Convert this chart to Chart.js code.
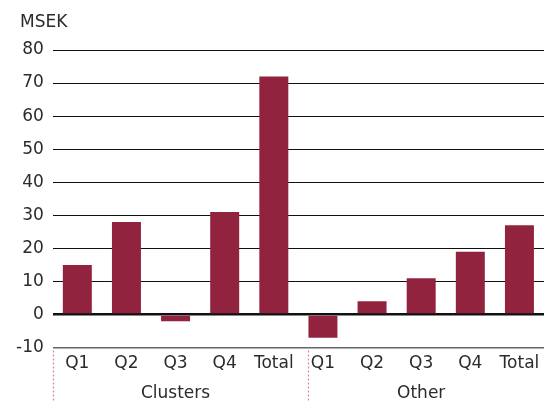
<!doctype html>
<html lang="en">
<head>
  <meta charset="utf-8">
  <title>MSEK by quarter</title>
  <style>
    html, body { margin: 0; padding: 0; background: #fff; }
    .wrap { width: 547px; height: 401px; position: relative; }
  </style>
</head>
<body>
  <div class="wrap"><canvas id="chart"></canvas></div>

  <script src="https://cdn.jsdelivr.net/npm/chart.js"></script>
  <script>
    const quarters = ['Q1', 'Q2', 'Q3', 'Q4', 'Total', 'Q1', 'Q2', 'Q3', 'Q4', 'Total'];
    const groups   = ['Clusters', 'Other'];
    const values   = [15, 28, -2, 31, 72, -7, 4, 11, 19, 27];
    const yTicks   = [-10, 0, 10, 20, 30, 40, 50, 60, 70, 80];

    const FONT = "'DejaVu Sans', sans-serif";
    const TEXT = '#2b2b2b';

    // unit label, group labels and the dotted separators under the axis
    const extras = {
      id: 'extras',
      afterDraw(chart) {
        const { ctx, chartArea, scales } = chart;
        const x = scales.x;
        ctx.save();
        ctx.fillStyle = TEXT;
        ctx.font = '17px ' + FONT;
        ctx.textBaseline = 'alphabetic';
        ctx.textAlign = 'left';
        ctx.fillText('MSEK', 20, 27);

        ctx.textAlign = 'center';
        const y = chartArea.bottom + 50;
        ctx.fillText(groups[0], (x.getPixelForValue(0) + x.getPixelForValue(4)) / 2, y);
        ctx.fillText(groups[1], (x.getPixelForValue(5) + x.getPixelForValue(9)) / 2, y);

        ctx.strokeStyle = '#d48aa0';
        ctx.lineWidth = 1.2;
        ctx.setLineDash([2, 2]);
        [chartArea.left, x.getPixelForValue(4.7)].forEach(px => {
          ctx.beginPath();
          ctx.moveTo(Math.round(px) + 0.5, chartArea.bottom + 3);
          ctx.lineTo(Math.round(px) + 0.5, chart.height);
          ctx.stroke();
        });
        ctx.restore();
      }
    };

    new Chart(document.getElementById('chart'), {
      type: 'bar',
      data: {
        labels: quarters,
        datasets: [{
          data: values,
          backgroundColor: '#92233f',
          barPercentage: 0.59,
          categoryPercentage: 1
        }]
      },
      options: {
        responsive: true,
        maintainAspectRatio: false,
        animation: false,
        layout: { padding: { top: 50, right: 3, bottom: 29, left: 7 } },
        plugins: {
          legend: { display: false },
          tooltip: { enabled: false }
        },
        scales: {
          x: {
            grid: { display: false },
            border: { display: false },
            ticks: { color: TEXT, font: { family: FONT, size: 17 }, padding: -2, maxRotation: 0, autoSkip: false }
          },
          y: {
            min: yTicks[0],
            max: yTicks[yTicks.length - 1],
            afterBuildTicks: axis => { axis.ticks = yTicks.map(v => ({ value: v })); },
            border: { display: false },
            grid: {
              drawTicks: false,
              color: c => c.tick.value === -10 ? '#666' : '#111',
              lineWidth: c => c.tick.value === 0 ? 2.5 : (c.tick.value === -10 ? 1.5 : 1)
            },
            ticks: { color: TEXT, font: { family: FONT, size: 17 }, padding: 9 }
          }
        }
      },
      plugins: [extras]
    });
  </script>
</body>
</html>
